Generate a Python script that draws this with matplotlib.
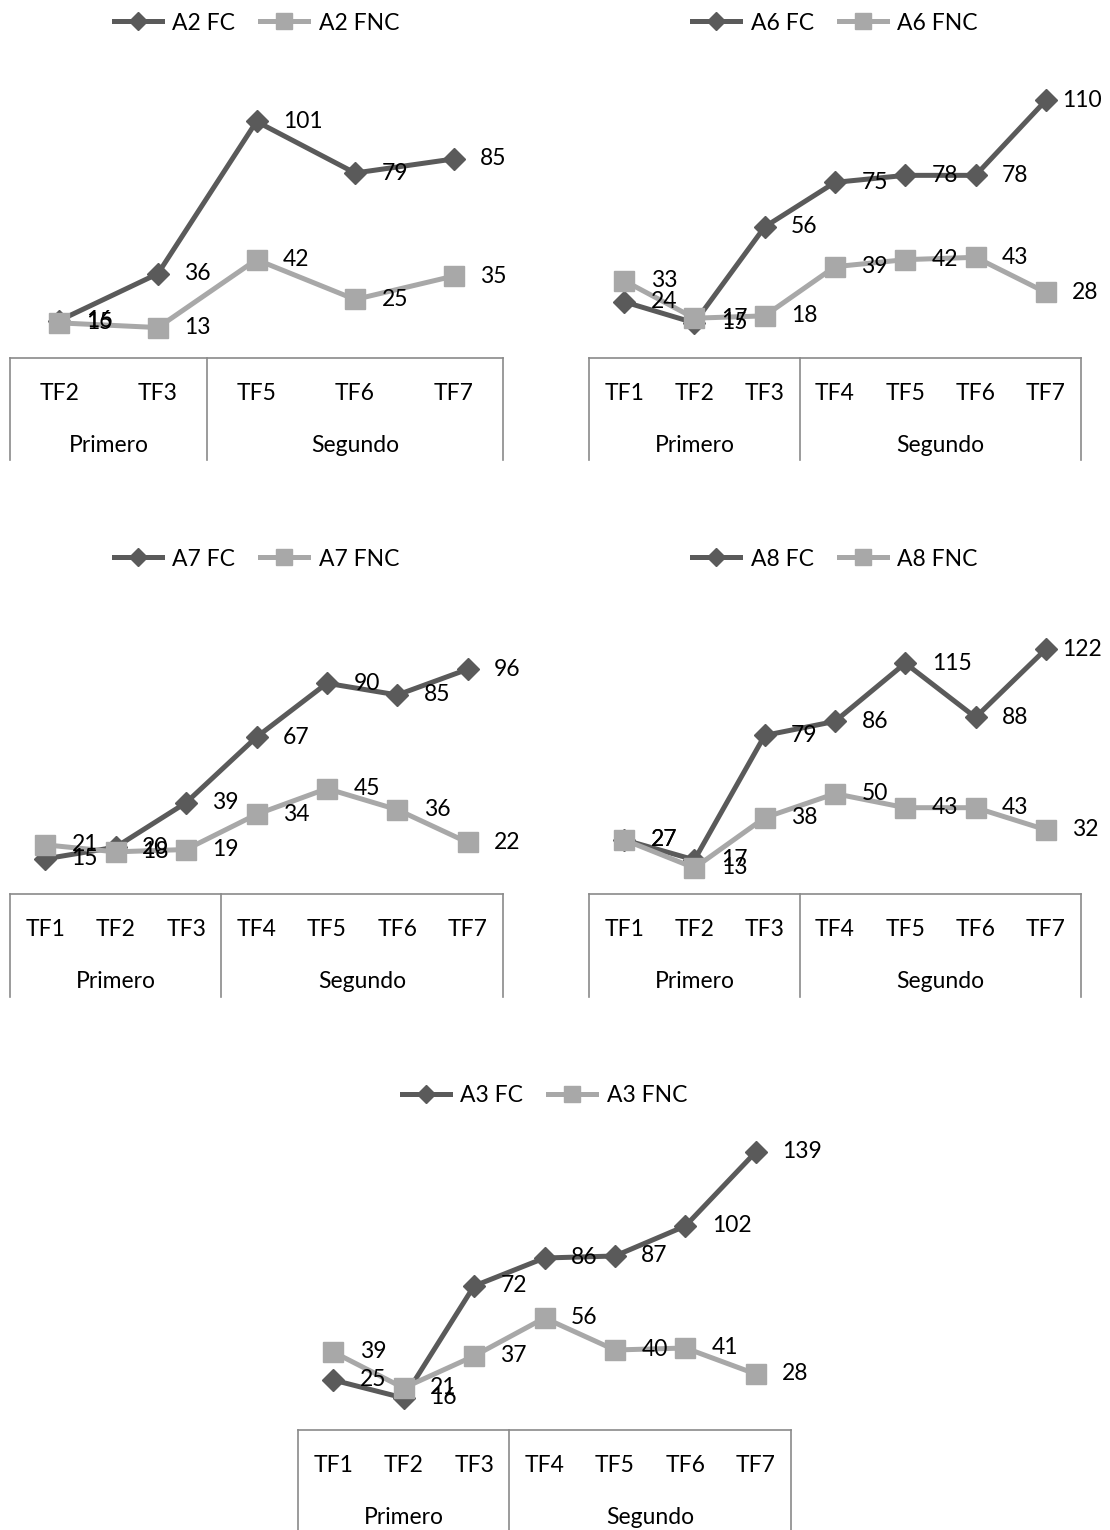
import matplotlib; matplotlib.use("Agg")
import matplotlib.pyplot as plt
import numpy as np

plt.rcParams['font.family'] = ['Lato', 'DejaVu Sans']

# categories per chart
cats_a2 = ["TF2", "TF3", "TF5", "TF6", "TF7"]
groups_a2 = [("Primero", 2), ("Segundo", 3)]
cats_full = ["TF1", "TF2", "TF3", "TF4", "TF5", "TF6", "TF7"]
groups_full = [("Primero", 3), ("Segundo", 4)]

a2_fc = [16, 36, 101, 79, 85]
a2_fnc = [15, 13, 42, 25, 35]
a6_fc = [24, 15, 56, 75, 78, 78, 110]
a6_fnc = [33, 17, 18, 39, 42, 43, 28]
a7_fc = [15, 20, 39, 67, 90, 85, 96]
a7_fnc = [21, 18, 19, 34, 45, 36, 22]
a8_fc = [27, 17, 79, 86, 115, 88, 122]
a8_fnc = [27, 13, 38, 50, 43, 43, 32]
a3_fc = [25, 16, 72, 86, 87, 102, 139]
a3_fnc = [39, 21, 37, 56, 40, 41, 28]

W, H = 1110, 1530
DARK = "#5a5a5a"
LIGHT = "#a8a8a8"
GRID = "#8a8a8a"
FS = 16.5
OFF = 19  # label offset from point, in points

fig = plt.figure(figsize=(W / 100, H / 100), dpi=100)
value_labels = []


def chart(name, cats, groups, fc, fnc, ymax, left, right, top, base, bottom):
    h = base - top
    ax = fig.add_axes([left / W, 1 - base / H, (right - left) / W, h / H])
    x = np.arange(len(cats))
    ax.plot(x, fc, color=DARK, lw=3.6, marker="D", ms=11, label=f"{name} FC",
            zorder=3, clip_on=False)
    ax.plot(x, fnc, color=LIGHT, lw=3.6, marker="s", ms=14, label=f"{name} FNC",
            zorder=4, clip_on=False)
    for series in (fc, fnc):
        for xi, v in zip(x, series):
            t = ax.annotate(str(v), (xi, v), xytext=(OFF, 0), textcoords="offset points",
                            ha="left", va="center", fontsize=FS, zorder=5)
            value_labels.append(t)
    ax.set_xlim(-0.5, len(cats) - 0.5)
    ax.set_ylim(0, ymax)
    ax.axis("off")

    # two-level category axis drawn under the plot
    tr = ax.get_xaxis_transform()
    yb = -(bottom - base) / h
    ax.plot([-0.5, len(cats) - 0.5], [0, 0], color=GRID, lw=1.2, transform=tr, clip_on=False)
    edges = [-0.5]
    for _, n in groups:
        edges.append(edges[-1] + n)
    for e in edges:
        ax.plot([e, e], [0, yb], color=GRID, lw=1.2, transform=tr, clip_on=False)
    for xi, c in zip(x, cats):
        ax.text(xi, -35 / h, c, transform=tr, ha="center", va="center", fontsize=FS)
    for (g, n), e in zip(groups, edges[:-1]):
        ax.text(e + n / 2, -87 / h, g, transform=tr, ha="center", va="center", fontsize=FS)

    ax.legend(loc="center", bbox_to_anchor=(0.5, 1 + 54 / h), ncol=2, frameon=False,
              fontsize=FS, handlelength=2.1, handletextpad=0.45, columnspacing=1.1,
              markerscale=0.85)
    return ax


chart("A2", cats_a2, groups_a2, a2_fc, a2_fnc, 120, 10, 503, 77, 358, 460)
chart("A6", cats_full, groups_full, a6_fc, a6_fnc, 120, 589, 1081, 77, 358, 460)
chart("A7", cats_full, groups_full, a7_fc, a7_fnc, 120, 10, 503, 613, 894, 997)
chart("A8", cats_full, groups_full, a8_fc, a8_fnc, 140, 589, 1081, 613, 894, 997)
chart("A3", cats_full, groups_full, a3_fc, a3_fnc, 140, 298, 791, 1150, 1430, 1531)

# pull labels that run past the right edge back inside the figure
fig.canvas.draw()
renderer = fig.canvas.get_renderer()
limit = W - 8
for t in value_labels:
    bb = t.get_window_extent(renderer)
    if bb.x1 > limit:
        t.set_position((OFF - (bb.x1 - limit) * 72 / 100, 0))

fig.savefig("out.png", dpi=100)
